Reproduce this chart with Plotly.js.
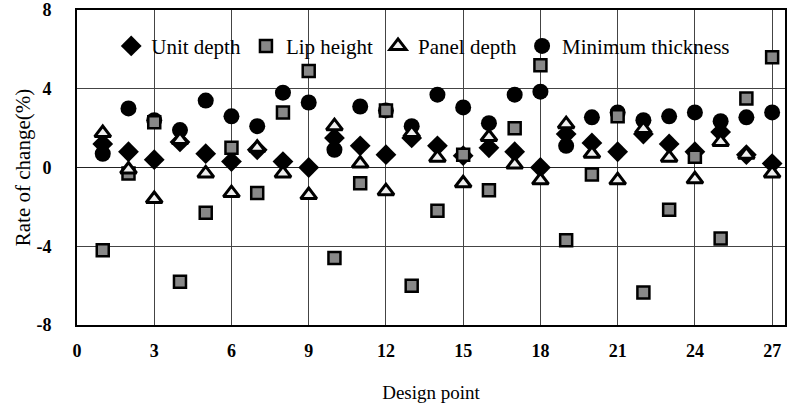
<!DOCTYPE html>
<html><head><meta charset="utf-8">
<script src="https://cdn.plot.ly/plotly-3.0.1.min.js"></script>
<style>html,body{margin:0;padding:0;background:#fff}</style>
</head><body>
<div id="chart" style="width:796px;height:410px"></div>
<script>
const designPoints = [1,2,3,4,5,6,7,8,9,10,11,12,13,14,15,16,17,18,19,20,21,22,23,24,25,26,27];
const unitDepth = [1.2,0.8,0.4,1.3,0.7,0.3,0.9,0.3,0.0,1.5,1.1,0.65,1.5,1.1,0.6,1.0,0.8,0.0,1.7,1.25,0.8,1.7,1.2,0.8,1.8,0.65,0.2];
const lipHeight = [-4.2,-0.3,2.3,-5.8,-2.3,1.0,-1.3,2.8,4.9,-4.6,-0.8,2.9,-6.0,-2.2,0.65,-1.15,2.0,5.2,-3.7,-0.35,2.6,-6.35,-2.15,0.55,-3.6,3.5,5.6];
const panelDepth = [1.75,-0.1,-1.6,1.4,-0.3,-1.3,1.0,-0.3,-1.4,2.1,0.2,-1.2,1.75,0.5,-0.8,1.55,0.15,-0.65,2.2,0.7,-0.65,1.95,0.5,-0.6,1.3,0.65,-0.3];
const minThickness = [0.7,3.0,2.4,1.9,3.4,2.6,2.1,3.8,3.3,0.9,3.1,2.9,2.1,3.7,3.05,2.25,3.7,3.85,1.1,2.55,2.8,2.4,2.6,2.8,2.35,2.55,2.8];
const xTicks = [0,3,6,9,12,15,18,21,24,27];
const yTicks = [-8,-4,0,4,8];

const serif = "Liberation Serif, Times New Roman, serif";
const traces = [
  {name:"Minimum thickness", x:designPoints, y:minThickness, mode:"markers", type:"scatter", legendrank:4,
   marker:{symbol:"circle", size:16, color:"#000"}},
  {name:"Unit depth", x:designPoints, y:unitDepth, mode:"markers", type:"scatter", legendrank:1,
   marker:{symbol:"diamond", size:16, color:"#000"}},
  {name:"Lip height", x:designPoints, y:lipHeight, mode:"markers", type:"scatter", legendrank:2,
   marker:{symbol:"square", size:12, color:"#888", line:{color:"#000", width:2.5}}},
  {name:"Panel depth", x:designPoints, y:panelDepth, mode:"markers", type:"scatter", legendrank:3,
   marker:{symbol:"triangle-up", size:14, color:"#eee", line:{color:"#000", width:3}}}
];
const layout = {
  width:796, height:410,
  margin:{l:77, r:11, t:10, b:85},
  paper_bgcolor:"#fff", plot_bgcolor:"#fff",
  font:{family:serif, color:"#000"},
  showlegend:true,
  legend:{orientation:"h", x:0.489, xanchor:"center", y:0.885, yanchor:"middle",
    bgcolor:"rgba(0,0,0,0)", font:{family:serif, size:21, color:"#000"},
    itemwidth:30, traceorder:"normal", tracegroupgap:0},
  xaxis:{range:[0,27.5], tickvals:xTicks, ticktext:xTicks.map(String), showgrid:true,
    gridcolor:"#444", gridwidth:1, zeroline:false, showline:true, linecolor:"#000", linewidth:2, mirror:true,
    ticks:"outside", ticklen:8, tickcolor:"rgba(0,0,0,0)",
    tickfont:{family:serif, size:18, color:"#000", weight:"bold"},
    title:{text:"Design point", font:{family:serif, size:19, color:"#000"}, standoff:26}},
  yaxis:{range:[-8,8], tickvals:yTicks, ticktext:yTicks.map(String), showgrid:true,
    gridcolor:"#444", gridwidth:1, zeroline:true, zerolinecolor:"#222", zerolinewidth:1.5,
    showline:true, linecolor:"#000", linewidth:2, mirror:true,
    ticks:"outside", ticklen:20, tickcolor:"rgba(0,0,0,0)",
    tickfont:{family:serif, size:18, color:"#000", weight:"bold"},
    title:{text:"Rate of change(%)", font:{family:serif, size:21, color:"#000"}, standoff:0}},
  shapes:[{type:"rect", xref:"paper", yref:"paper", x0:0, x1:1, y0:0.81, y1:1, layer:"between",
    fillcolor:"#fff", line:{width:0}}]
};
Plotly.newPlot("chart", traces, layout, {displayModeBar:false, staticPlot:true});
</script>
</body></html>
